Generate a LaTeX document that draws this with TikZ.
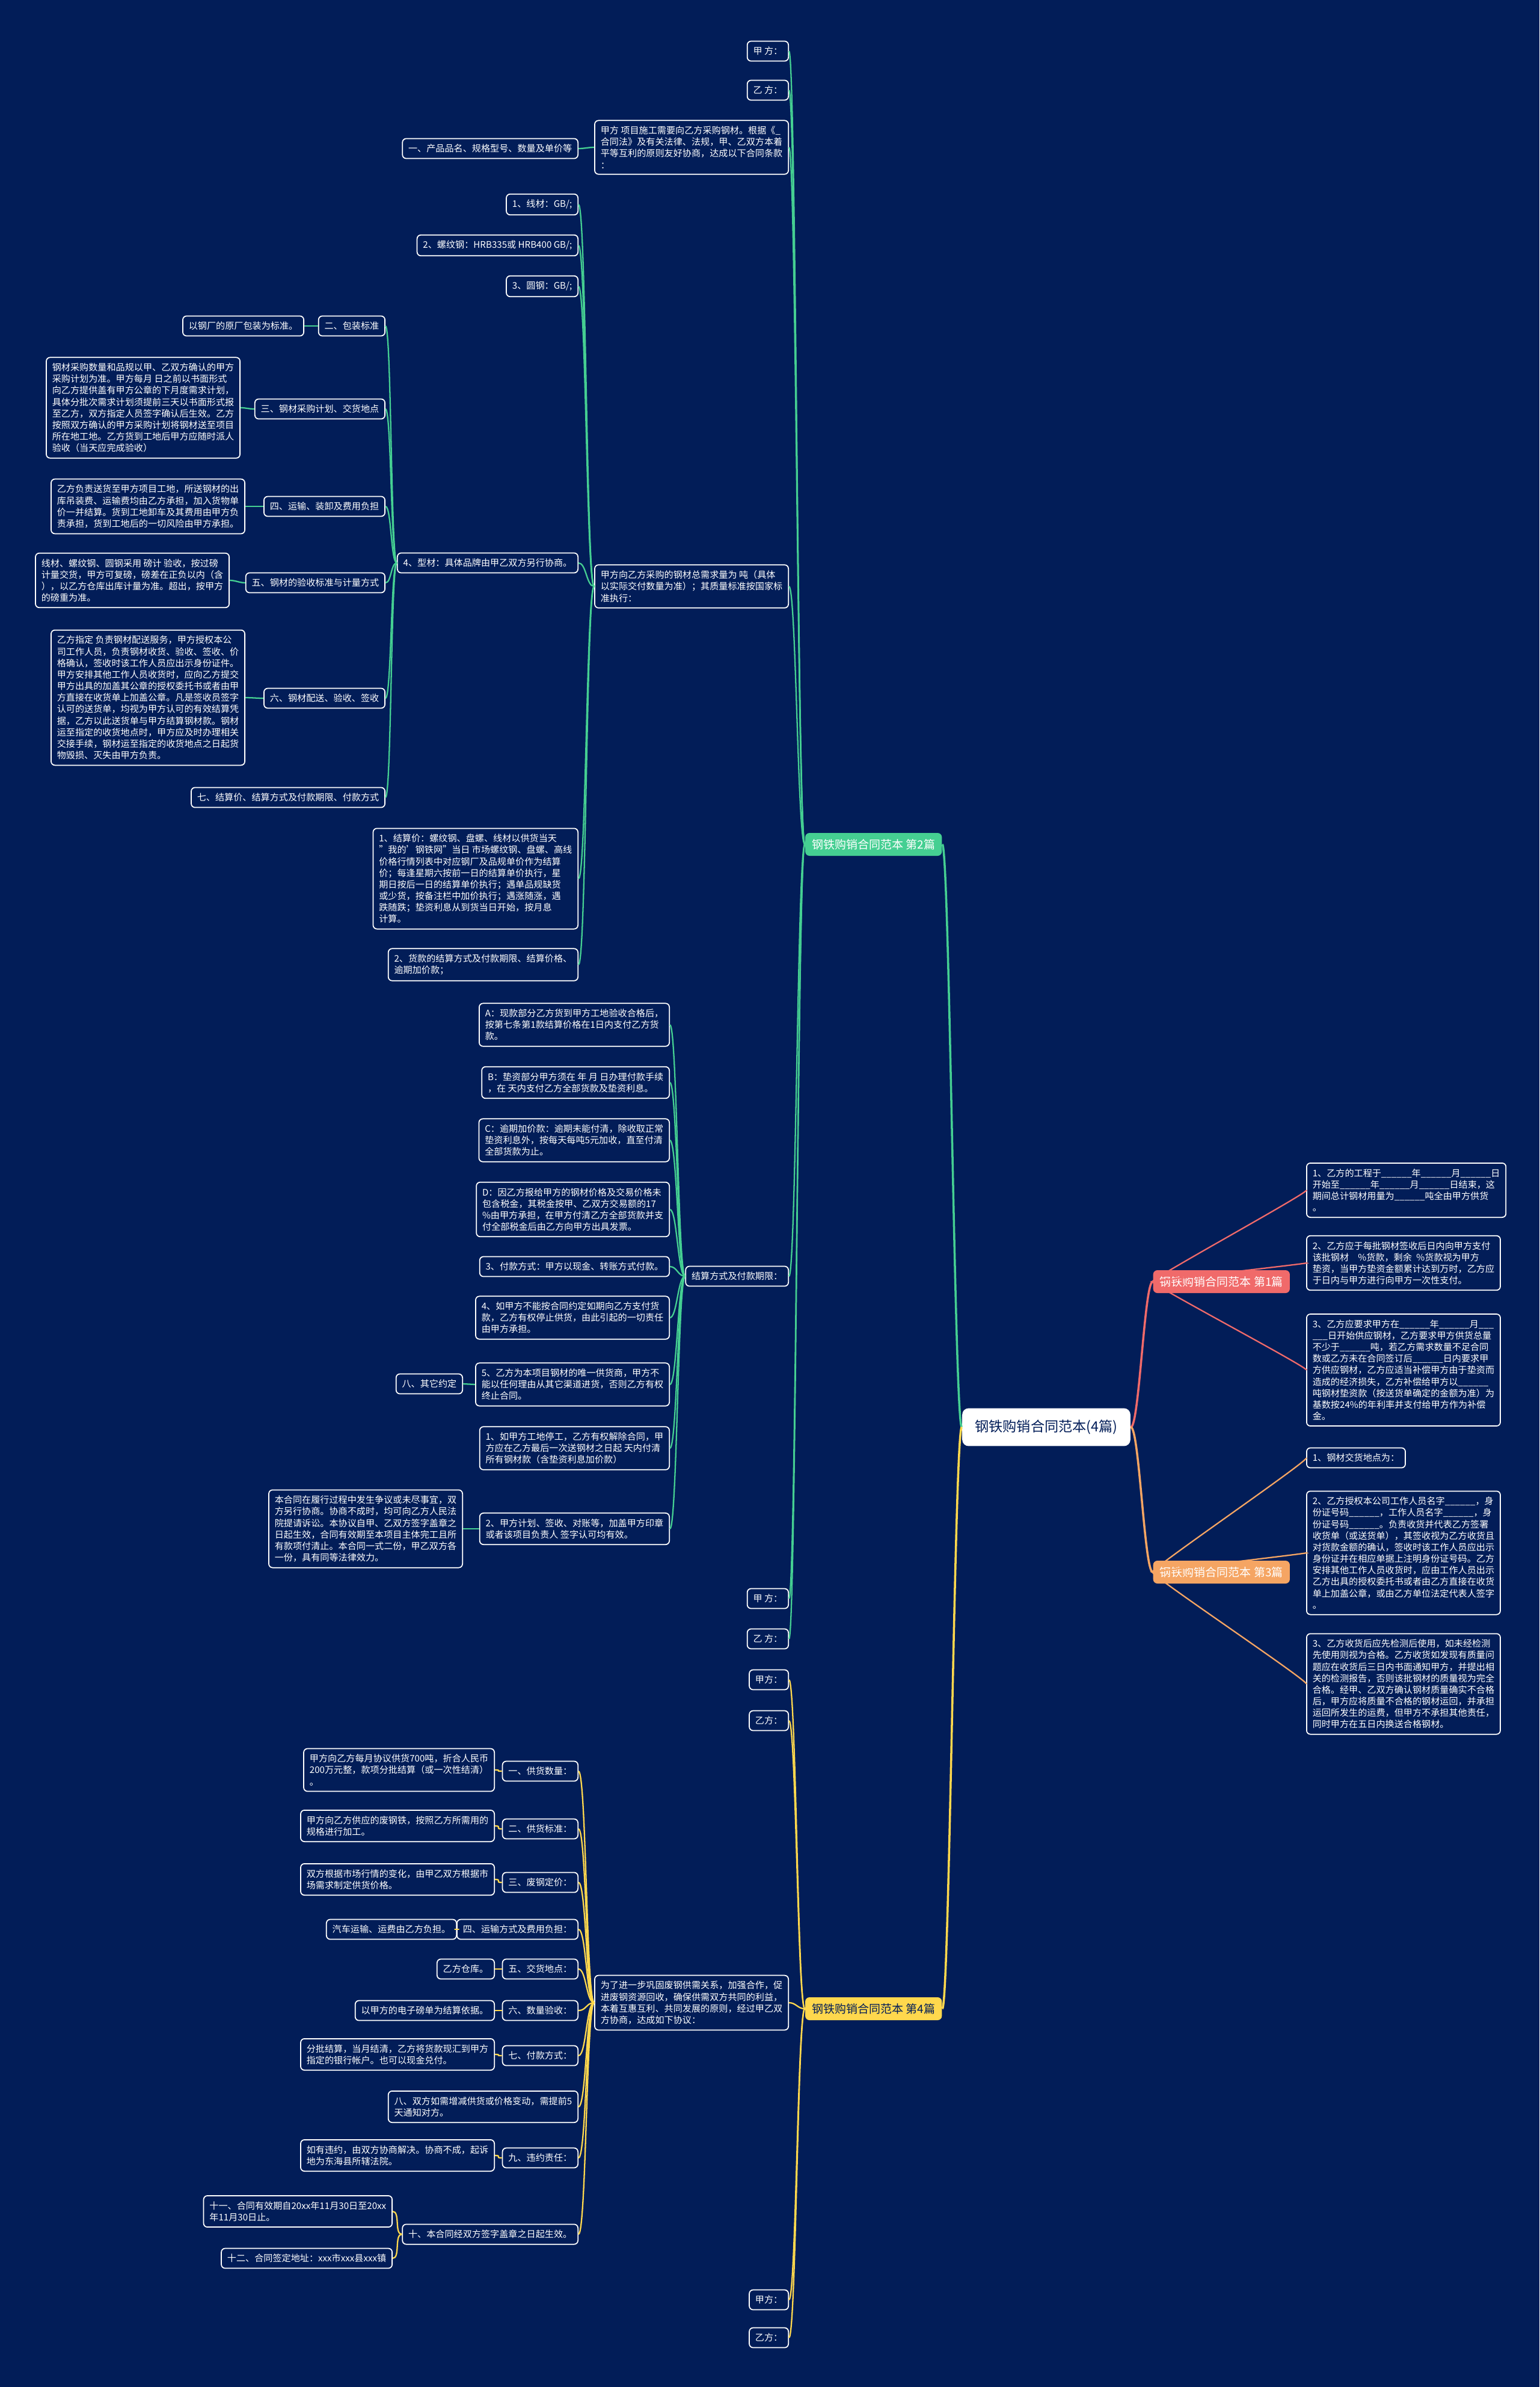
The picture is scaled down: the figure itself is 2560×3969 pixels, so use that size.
\documentclass[tikz,border=0pt]{standalone}
\usepackage{fontspec}
\setmainfont{Noto Sans CJK SC}
\definecolor{bgcol}{HTML}{021D58}
\definecolor{lgreen}{HTML}{45CF92}
\definecolor{lred}{HTML}{F06A6A}
\definecolor{lorange}{HTML}{F5A563}
\definecolor{lyellow}{HTML}{FFD84D}
\newcommand{\ublank}{\_\_\_\_\_\_}
\tikzset{
  box/.style={draw=white, line width=0.5pt, rounded corners=1.8pt, fill=bgcol, text=white,
    align=left, inner xsep=2.8pt, inner ysep=2.7pt, font=\fontsize{4.3}{5.45}\selectfont},
  rootbox/.style={fill=white, text=bgcol, rounded corners=3pt, inner xsep=6pt, inner ysep=5.5pt,
    font=\fontsize{6.6}{7.8}\selectfont},
  branchbox/.style={rounded corners=2pt, inner xsep=3.2pt, inner ysep=2.9pt, font=\fontsize{5.4}{6.4}\selectfont},
  glink/.style={draw=lgreen, line width=0.65pt},
  rlink/.style={draw=lred, line width=0.65pt},
  olink/.style={draw=lorange, line width=0.65pt},
  ylink/.style={draw=lyellow, line width=0.65pt},
}
\begin{document}
\begin{tikzpicture}[x=0.01cm, y=-0.01cm]
\fill[bgcol] (0,0) rectangle (2560,3969);
\useasboundingbox (0,0) rectangle (2560,3969);

\node[rootbox] (root) at (1740,2373) {钢铁购销合同范本(4篇)};
\node[branchbox, fill=lgreen, text=white, anchor=east] (b2) at (1567,1404) {钢铁购销合同范本 第2篇};
\node[branchbox, fill=lred, text=white, anchor=west] (b1) at (1917,2131) {钢铁购销合同范本 第1篇};
\node[branchbox, fill=lorange, text=white, anchor=west] (b3) at (1917,2614) {钢铁购销合同范本 第3篇};
\node[branchbox, fill=lyellow, text=bgcol, anchor=east] (b4) at (1567,3340) {钢铁购销合同范本 第4篇};

% 第2篇
\node[box, anchor=east] (b2jia1) at (1312,85) {甲 方：};
\node[box, anchor=east] (b2yi1) at (1312,150) {乙 方：};
\node[box, anchor=east] (b2intro) at (1312,245) {甲方 项目施工需要向乙方采购钢材。根据《\_\\合同法》及有关法律、法规，甲、乙双方本着\\平等互利的原则友好协商，达成以下合同条款\\：};
\node[box, anchor=east] (b2c1) at (962,247) {一、产品品名、规格型号、数量及单价等};
\node[box, anchor=east] (b2need) at (1312,975) {甲方向乙方采购的钢材总需求量为 吨（具体\\以实际交付数量为准）；其质量标准按国家标\\准执行：};
\node[box, anchor=east] (s1) at (962,340) {1、线材：GB/;};
\node[box, anchor=east] (s2) at (962,408) {2、螺纹钢：HRB335或 HRB400 GB/;};
\node[box, anchor=east] (s3) at (962,476) {3、圆钢：GB/;};
\node[box, anchor=east] (s4) at (962,936) {4、型材：具体品牌由甲乙双方另行协商。};
\node[box, anchor=east] (t2) at (641,542) {二、包装标准};
\node[box, anchor=east] (l2) at (506,542) {以钢厂的原厂包装为标准。};
\node[box, anchor=east] (t3) at (641,680) {三、钢材采购计划、交货地点};
\node[box, anchor=east] (l3) at (400,678) {钢材采购数量和品规以甲、乙双方确认的甲方\\采购计划为准。甲方每月 日之前以书面形式\\向乙方提供盖有甲方公章的下月度需求计划，\\具体分批次需求计划须提前三天以书面形式报\\至乙方，双方指定人员签字确认后生效。乙方\\按照双方确认的甲方采购计划将钢材送至项目\\所在地工地。乙方货到工地后甲方应随时派人\\验收（当天应完成验收）};
\node[box, anchor=east] (t4) at (641,842) {四、运输、装卸及费用负担};
\node[box, anchor=east] (l4) at (408,842) {乙方负责送货至甲方项目工地，所送钢材的出\\库吊装费、运输费均由乙方承担，加入货物单\\价一并结算。货到工地卸车及其费用由甲方负\\责承担，货到工地后的一切风险由甲方承担。};
\node[box, anchor=east] (t5) at (641,969) {五、钢材的验收标准与计量方式};
\node[box, anchor=east] (l5) at (382,965) {线材、螺纹钢、圆钢采用 磅计 验收，按过磅\\计量交货，甲方可复磅，磅差在正负以内（含\\），以乙方仓库出库计量为准。超出，按甲方\\的磅重为准。};
\node[box, anchor=east] (t6) at (641,1161) {六、钢材配送、验收、签收};
\node[box, anchor=east] (l6) at (408,1160) {乙方指定 负责钢材配送服务，甲方授权本公\\司工作人员，负责钢材收货、验收、签收、价\\格确认，签收时该工作人员应出示身份证件。\\甲方安排其他工作人员收货时，应向乙方提交\\甲方出具的加盖其公章的授权委托书或者由甲\\方直接在收货单上加盖公章。凡是签收员签字\\认可的送货单，均视为甲方认可的有效结算凭\\据，乙方以此送货单与甲方结算钢材款。钢材\\运至指定的收货地点时，甲方应及时办理相关\\交接手续，钢材运至指定的收货地点之日起货\\物毁损、灭失由甲方负责。};
\node[box, anchor=east] (t7) at (641,1326) {七、结算价、结算方式及付款期限、付款方式};
\node[box, anchor=east] (s5) at (962,1461) {1、结算价：螺纹钢、盘螺、线材以供货当天\\"我的'钢铁网"当日 市场螺纹钢、盘螺、高线\\价格行情列表中对应钢厂及品规单价作为结算\\价；每逢星期六按前一日的结算单价执行，星\\期日按后一日的结算单价执行；遇单品规缺货\\或少货，按备注栏中加价执行；遇涨随涨，遇\\跌随跌；垫资利息从到货当日开始，按月息\\计算。};
\node[box, anchor=east] (s6) at (962,1604) {2、货款的结算方式及付款期限、结算价格、\\逾期加价款；};
\node[box, anchor=east] (b2pay) at (1312,2122) {结算方式及付款期限：};
\node[box, anchor=east] (pA) at (1114,1704) {A：现款部分乙方货到甲方工地验收合格后，\\按第七条第1款结算价格在1日内支付乙方货\\款。};
\node[box, anchor=east] (pB) at (1114,1800) {B：垫资部分甲方须在 年 月 日办理付款手续\\，在 天内支付乙方全部货款及垫资利息。};
\node[box, anchor=east] (pC) at (1114,1896) {C：逾期加价款：逾期未能付清，除收取正常\\垫资利息外，按每天每吨5元加收，直至付清\\全部货款为止。};
\node[box, anchor=east] (pD) at (1114,2011) {D：因乙方报给甲方的钢材价格及交易价格未\\包含税金，其税金按甲、乙双方交易额的17\\\%由甲方承担，在甲方付清乙方全部货款并支\\付全部税金后由乙方向甲方出具发票。};
\node[box, anchor=east] (p3) at (1114,2106) {3、付款方式：甲方以现金、转账方式付款。};
\node[box, anchor=east] (p4) at (1114,2191) {4、如甲方不能按合同约定如期向乙方支付货\\款，乙方有权停止供货，由此引起的一切责任\\由甲方承担。};
\node[box, anchor=east] (p5) at (1114,2302) {5、乙方为本项目钢材的唯一供货商，甲方不\\能以任何理由从其它渠道进货，否则乙方有权\\终止合同。};
\node[box, anchor=east] (p5a) at (770,2301) {八、其它约定};
\node[box, anchor=east] (p6) at (1114,2408) {1、如甲方工地停工，乙方有权解除合同，甲\\方应在乙方最后一次送钢材之日起 天内付清\\所有钢材款（含垫资利息加价款）};
\node[box, anchor=east] (p7) at (1114,2542) {2、甲方计划、签收、对账等，加盖甲方印章\\或者该项目负责人 签字认可均有效。};
\node[box, anchor=east] (p7a) at (770,2542) {本合同在履行过程中发生争议或未尽事宜，双\\方另行协商。协商不成时，均可向乙方人民法\\院提请诉讼。本协议自甲、乙双方签字盖章之\\日起生效，合同有效期至本项目主体完工且所\\有款项付清止。本合同一式二份，甲乙双方各\\一份，具有同等法律效力。};
\node[box, anchor=east] (b2jia2) at (1312,2658) {甲 方：};
\node[box, anchor=east] (b2yi2) at (1312,2725) {乙 方：};

% 第1篇
\node[box, anchor=west] (r1c1) at (2172,1979) {1、乙方的工程于\ublank 年\ublank 月\ublank 日\\开始至\ublank 年\ublank 月\ublank 日结束，这\\期间总计钢材用量为\ublank 吨全由甲方供货\\。};
\node[box, anchor=west] (r1c2) at (2172,2100) {2、乙方应于每批钢材签收后日内向甲方支付\\该批钢材\quad\%货款，剩余\enspace\%货款视为甲方\\垫资，当甲方垫资金额累计达到万时，乙方应\\于日内与甲方进行向甲方一次性支付。};
\node[box, anchor=west] (r1c3) at (2172,2278) {3、乙方应要求甲方在\ublank 年\ublank 月\_\_\_\\\_\_\_日开始供应钢材，乙方要求甲方供货总量\\不少于\ublank 吨，若乙方需求数量不足合同\\数或乙方未在合同签订后\ublank 日内要求甲\\方供应钢材，乙方应适当补偿甲方由于垫资而\\造成的经济损失，乙方补偿给甲方以\ublank\\吨钢材垫资款（按送货单确定的金额为准）为\\基数按24\%的年利率并支付给甲方作为补偿\\金。};

% 第3篇
\node[box, anchor=west] (r3c1) at (2172,2424) {1、钢材交货地点为：};
\node[box, anchor=west] (r3c2) at (2172,2582) {2、乙方授权本公司工作人员名字\ublank，身\\份证号码\ublank，工作人员名字\ublank，身\\份证号码\ublank。负责收货并代表乙方签署\\收货单（或送货单），其签收视为乙方收货且\\对货款金额的确认，签收时该工作人员应出示\\身份证并在相应单据上注明身份证号码。乙方\\安排其他工作人员收货时，应由工作人员出示\\乙方出具的授权委托书或者由乙方直接在收货\\单上加盖公章，或由乙方单位法定代表人签字\\。};
\node[box, anchor=west] (r3c3) at (2172,2800) {3、乙方收货后应先检测后使用，如未经检测\\先使用则视为合格。乙方收货如发现有质量问\\题应在收货后三日内书面通知甲方，并提出相\\关的检测报告，否则该批钢材的质量视为完全\\合格。经甲、乙双方确认钢材质量确实不合格\\后，甲方应将质量不合格的钢材运回，并承担\\运回所发生的运费，但甲方不承担其他责任，\\同时甲方在五日内换送合格钢材。};

% 第4篇
\node[box, anchor=east] (b4jia1) at (1312,2793) {甲方：};
\node[box, anchor=east] (b4yi1) at (1312,2861) {乙方：};
\node[box, anchor=east] (b4intro) at (1312,3330) {为了进一步巩固废钢供需关系，加强合作，促\\进废钢资源回收，确保供需双方共同的利益，\\本着互惠互利、共同发展的原则，经过甲乙双\\方协商，达成如下协议：};
\node[box, anchor=east] (q1) at (962,2945) {一、供货数量：};
\node[box, anchor=east] (m1) at (823,2943) {甲方向乙方每月协议供货700吨，折合人民币\\200万元整，款项分批结算（或一次性结清）\\。};
\node[box, anchor=east] (q2) at (962,3041) {二、供货标准：};
\node[box, anchor=east] (m2) at (823,3036) {甲方向乙方供应的废钢铁，按照乙方所需用的\\规格进行加工。};
\node[box, anchor=east] (q3) at (962,3130) {三、废钢定价：};
\node[box, anchor=east] (m3) at (823,3125) {双方根据市场行情的变化，由甲乙双方根据市\\场需求制定供货价格。};
\node[box, anchor=east] (q4) at (962,3208) {四、运输方式及费用负担：};
\node[box, anchor=east] (m4) at (760,3208) {汽车运输、运费由乙方负担。};
\node[box, anchor=east] (q5) at (962,3274) {五、交货地点：};
\node[box, anchor=east] (m5) at (823,3274) {乙方仓库。};
\node[box, anchor=east] (q6) at (962,3343) {六、数量验收：};
\node[box, anchor=east] (m6) at (823,3343) {以甲方的电子磅单为结算依据。};
\node[box, anchor=east] (q7) at (962,3418) {七、付款方式：};
\node[box, anchor=east] (m7) at (823,3416) {分批结算，当月结清，乙方将货款现汇到甲方\\指定的银行帐户。也可以现金兑付。};
\node[box, anchor=east] (q8) at (962,3503) {八、双方如需增减供货或价格变动，需提前5\\天通知对方。};
\node[box, anchor=east] (q9) at (962,3588) {九、违约责任：};
\node[box, anchor=east] (m9) at (823,3584) {如有违约，由双方协商解决。协商不成，起诉\\地为东海县所辖法院。};
\node[box, anchor=east] (q10) at (962,3715) {十、本合同经双方签字盖章之日起生效。};
\node[box, anchor=east] (m10a) at (653,3677) {十一、合同有效期自20xx年11月30日至20xx\\年11月30日止。};
\node[box, anchor=east] (m10b) at (653,3755) {十二、合同签定地址：xxx市xxx县xxx镇};
\node[box, anchor=east] (b4jia2) at (1312,3824) {甲方：};
\node[box, anchor=east] (b4yi2) at (1312,3887) {乙方：};

% connectors
\draw[glink, line width=1pt] (root.west) .. controls +(-12,0) and +(12,0) .. (b2.east);
\draw[ylink, line width=1pt] (root.west) .. controls +(-12,0) and +(12,0) .. (b4.east);
\draw[rlink, line width=1pt] (root.east) .. controls +(14,0) and +(-14,0) .. (b1.west);
\draw[olink, line width=1pt] (root.east) .. controls +(14,0) and +(-14,0) .. (b3.west);
\foreach \c in {b2jia1,b2yi1,b2intro,b2need,b2pay,b2jia2,b2yi2}
  \draw[glink] (b2.west) .. controls +(-12,0) and +(12,0) .. (\c.east);
\foreach \c in {s1,s2,s3,s4,s5,s6}
  \draw[glink] (b2need.west) .. controls +(-13,0) and +(13,0) .. (\c.east);
\foreach \c in {t2,t3,t4,t5,t6,t7}
  \draw[glink] (s4.west) .. controls +(-10,0) and +(10,0) .. (\c.east);
\foreach \c in {pA,pB,pC,pD,p3,p4,p5,p6,p7}
  \draw[glink] (b2pay.west) .. controls +(-12,0) and +(12,0) .. (\c.east);
\foreach \a/\b in {b2intro/b2c1,t2/l2,t3/l3,t4/l4,t5/l5,t6/l6,p5/p5a,p7/p7a}
  \draw[glink] (\a.west) .. controls +(-10,0) and +(10,0) .. (\b.east);
\foreach \c in {r1c1,r1c2,r1c3}
  \draw[rlink] (b1.west) .. controls +(-12,0) and +(12,0) .. (\c.west);
\foreach \c in {r3c1,r3c2,r3c3}
  \draw[olink] (b3.west) .. controls +(-12,0) and +(12,0) .. (\c.west);
\foreach \c in {b4jia1,b4yi1,b4intro,b4jia2,b4yi2}
  \draw[ylink] (b4.west) .. controls +(-12,0) and +(12,0) .. (\c.east);
\foreach \c in {q1,q2,q3,q4,q5,q6,q7,q8,q9,q10}
  \draw[ylink] (b4intro.west) .. controls +(-13,0) and +(13,0) .. (\c.east);
\foreach \a/\b in {q1/m1,q2/m2,q3/m3,q4/m4,q5/m5,q6/m6,q7/m7,q9/m9,q10/m10a,q10/m10b}
  \draw[ylink] (\a.west) .. controls +(-13,0) and +(13,0) .. (\b.east);
\end{tikzpicture}
\end{document}
